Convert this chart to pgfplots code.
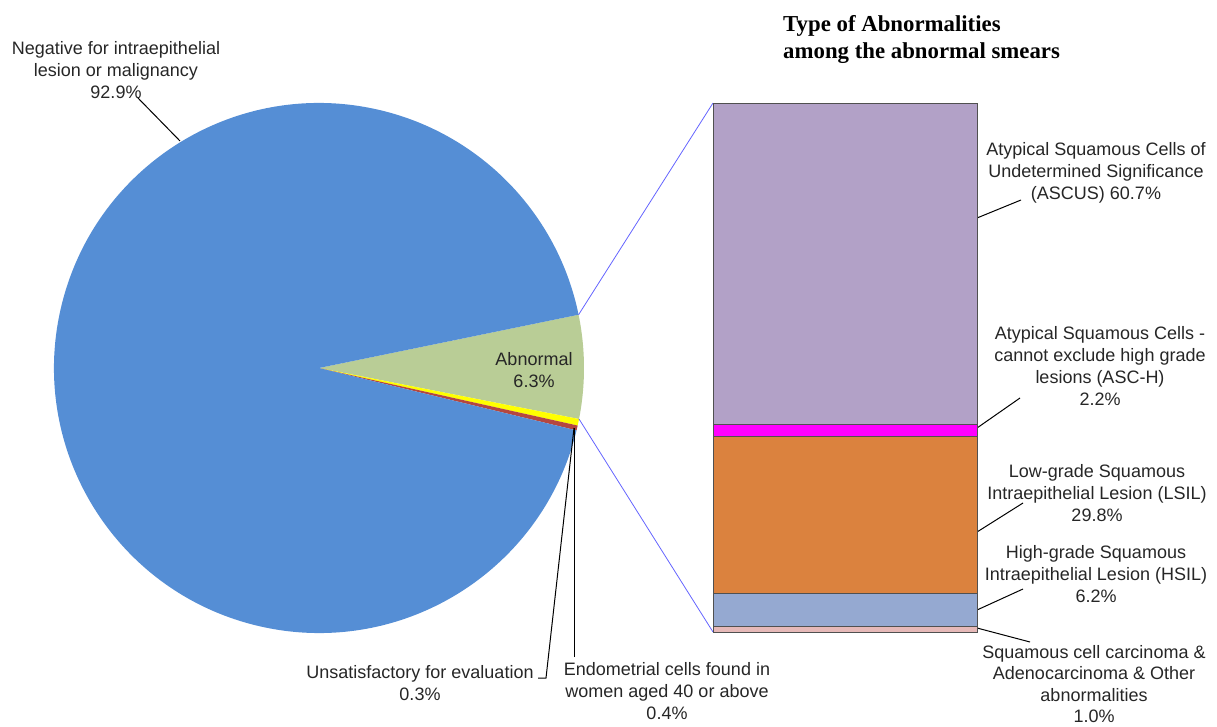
\documentclass[border=0pt]{standalone}
\usepackage{pgfplots}
\pgfplotsset{compat=1.18}
\usepackage{fontspec}
\setmainfont{Liberation Sans}
\newfontfamily\timesfont{Liberation Serif}
\definecolor{pieblue}{HTML}{558ED5}
\definecolor{abgreen}{HTML}{B9CD96}
\definecolor{enyellow}{HTML}{FFFF00}
\definecolor{unred}{HTML}{B5473F}
\definecolor{ascus}{HTML}{B2A1C7}
\definecolor{asch}{HTML}{FF00FF}
\definecolor{lsil}{HTML}{DB823E}
\definecolor{hsil}{HTML}{95A9D1}
\definecolor{other}{HTML}{E6B9B8}
\definecolor{conn}{HTML}{6464FF}
\definecolor{edge}{HTML}{505050}
% pie data (percent)
\def\vAb{6.3}\def\vEn{0.4}\def\vUn{0.3}\def\vNeg{92.9}
\pgfmathsetmacro\tot{\vAb+\vEn+\vUn+\vNeg}
\pgfmathsetmacro\aA{11.6}
\pgfmathsetmacro\aB{\aA-\vAb/\tot*360}
\pgfmathsetmacro\aC{\aB-\vEn/\tot*360}
\pgfmathsetmacro\aD{\aC-\vUn/\tot*360}
\pgfmathsetmacro\aE{\aA-360}
\begin{document}
\begin{tikzpicture}
\path[use as bounding box] (0,0) rectangle (1217pt,726pt);
\begin{axis}[at={(0pt,0pt)}, anchor=south west, scale only axis,
  width=1217pt, height=726pt, xmin=0, xmax=1217, ymin=0, ymax=726,
  hide axis, clip=false]
\addplot[draw=none] coordinates {(0,0) (1217,726)};
% pie slices
\fill[abgreen] (axis cs:319,358) -- ++(\aA:265pt) arc[start angle=\aA, end angle=\aB, radius=265pt] -- cycle;
\fill[enyellow] (axis cs:319,358) -- ++(\aB:265pt) arc[start angle=\aB, end angle=\aC, radius=265pt] -- cycle;
\fill[unred] (axis cs:319,358) -- ++(\aC:265pt) arc[start angle=\aC, end angle=\aD, radius=265pt] -- cycle;
\fill[pieblue] (axis cs:319,358) -- ++(\aD:265pt) arc[start angle=\aD, end angle=\aE, radius=265pt] -- cycle;
% connectors
\draw[conn, line width=0.8pt] (axis cs:319,358) ++(\aA:265pt) -- (axis cs:713,623);
\draw[conn, line width=0.8pt] (axis cs:319,358) ++(\aB:265pt) -- (axis cs:713,94);
% leaders
\begin{scope}[line width=1pt]
\draw (axis cs:137,629) -- (axis cs:180,585);
\draw (axis cs:538,48) -- (axis cs:546,48) -- (axis cs:574,298);
\draw (axis cs:574.5,69) -- (axis cs:574.5,298);
\draw (axis cs:977,508) -- (axis cs:1021,526);
\draw (axis cs:977,298) -- (axis cs:1020,328);
\draw (axis cs:977,194) -- (axis cs:1023,223);
\draw (axis cs:977,116) -- (axis cs:1023,137);
\draw (axis cs:977,98) -- (axis cs:1030,84);
\end{scope}
% labels
\begin{scope}[every node/.style={align=center, inner sep=0pt, font=\fontsize{18}{22}\selectfont, text=black!85}]
\node at (axis cs:116,656) {Negative for intraepithelial\\lesion or malignancy\\92.9\%};
\node at (axis cs:534,356) {Abnormal\\6.3\%};
\node at (axis cs:420,42.5) {Unsatisfactory for evaluation\\0.3\%};
\node at (axis cs:667,35) {Endometrial cells found in\\women aged 40 or above\\0.4\%};
\node at (axis cs:1096,553) {Atypical Squamous Cells of\\Undetermined Significance\\(ASCUS) 60.7\%};
\node at (axis cs:1100,359.5) {Atypical Squamous Cells -\\cannot exclude high grade\\lesions (ASC-H)\\2.2\%};
\node at (axis cs:1097,233) {Low-grade Squamous\\Intraepithelial Lesion (LSIL)\\29.8\%};
\node at (axis cs:1096,152) {High-grade Squamous\\Intraepithelial Lesion (HSIL)\\6.2\%};
\node[font=\fontsize{18}{21.5}\selectfont] at (axis cs:1094,42) {Squamous cell carcinoma \&\\Adenocarcinoma \& Other\\abnormalities\\1.0\%};
\end{scope}
\node[anchor=north west, align=left, inner sep=0pt, font=\timesfont\bfseries\fontsize{22.8}{27}\selectfont] at (axis cs:783,711) {Type of Abnormalities\\among the abnormal smears};
\end{axis}
\begin{axis}[at={(713pt,94pt)}, anchor=south west, scale only axis,
  width=264pt, height=529pt, xmin=0, xmax=2, ymin=0, ymax=99.9,
  ybar stacked, bar width=264pt, hide axis, clip=false,
  every axis plot/.append style={draw=edge, line width=0.8pt}]
\addplot[fill=other] coordinates {(1,1.0)};
\addplot[fill=hsil] coordinates {(1,6.2)};
\addplot[fill=lsil] coordinates {(1,29.8)};
\addplot[fill=asch] coordinates {(1,2.2)};
\addplot[fill=ascus] coordinates {(1,60.7)};
\end{axis}
\end{tikzpicture}
\end{document}
